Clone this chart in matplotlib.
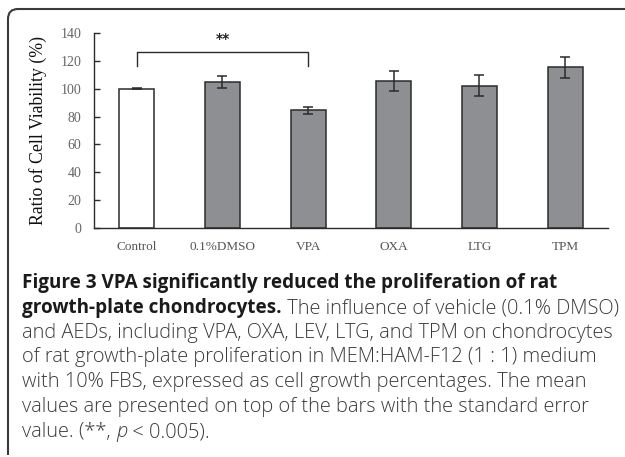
import matplotlib
matplotlib.use("Agg")
import matplotlib.pyplot as plt
from matplotlib.path import Path
from matplotlib.patches import PathPatch

# data
groups = ["Control", "0.1%DMSO", "VPA", "OXA", "LTG", "TPM"]
means = [100, 105, 84.5, 105.5, 102.3, 115.3]
errs = [0.3, 4.2, 2.4, 7.0, 7.5, 7.3]
fills = ["white", "#8e8f93", "#8e8f93", "#8e8f93", "#8e8f93", "#8e8f93"]
yticks = [0, 20, 40, 60, 80, 100, 120, 140]

W, H = 625, 457
fig = plt.figure(figsize=(W / 100, H / 100), dpi=100)

ax = fig.add_axes([94 / W, 1 - 228 / H, (608 - 94) / W, (228 - 33) / H])
x = range(len(groups))
ax.bar(x, means, width=0.41, color=fills, edgecolor="#2b2b2b", linewidth=1.1, zorder=2)
ax.errorbar(x, means, yerr=errs, fmt="none", ecolor="#2b2b2b", elinewidth=1.1,
            capsize=3.5, capthick=1.1, zorder=3)

ax.set_xlim(-0.5, 5.5)
ax.set_ylim(0, 140)
ax.set_yticks(yticks)
ax.set_xticks(list(x))
ax.set_xticklabels(groups)
for s in ["top", "right"]:
    ax.spines[s].set_visible(False)
for s in ["left", "bottom"]:
    ax.spines[s].set_color("#2b2b2b")
    ax.spines[s].set_linewidth(1.0)
ax.tick_params(axis="y", direction="in", length=4, width=1, color="#2b2b2b",
               labelsize=10, labelcolor="#666666", pad=9)
ax.tick_params(axis="x", length=0, labelsize=9.5, labelcolor="#555555", pad=9)
for lab in ax.get_xticklabels() + ax.get_yticklabels():
    lab.set_family("Liberation Serif")
ax.set_ylabel("Ratio of Cell Viability (%)", family="Liberation Serif",
              fontsize=12.8, labelpad=10, color="#111111")

# significance bracket Control vs VPA
ax.plot([0, 0, 2, 2], [116.5, 126.5, 126.5, 116.5], color="#2b2b2b", lw=1.0, clip_on=False)
ax.text(1, 136, "**", ha="center", va="center", fontsize=10, fontweight="bold", color="#222222")

# frame around figure (rounded top-left corner)
r = 10
verts = [(8, H - 2), (8, 9 + r), (8, 9), (8 + r, 9), (W + 2, 9)]
codes = [Path.MOVETO, Path.LINETO, Path.CURVE3, Path.CURVE3, Path.LINETO]
verts = [(vx / W, 1 - vy / H) for vx, vy in verts]
fig.patches.append(PathPatch(Path(verts, codes), transform=fig.transFigure,
                             fill=False, edgecolor="#3a3a3a", lw=1.5))

# caption
cap_font = "Open Sans"
fs = 14.4
x0 = 22 / W
line_y = [283, 308, 333, 357, 382, 407, 432]
fig.canvas.draw()
renderer = fig.canvas.get_renderer()


def chain(parts, y):
    xx = x0
    for txt, kw in parts:
        opts = {"color": "#3a3a3a", "fontweight": "light", "fontsize": fs}
        opts.update(kw)
        t = fig.text(xx, 1 - y / H, txt, family=cap_font, va="center", **opts)
        bb = t.get_window_extent(renderer)
        xx = bb.x1 / W


bold = {"fontweight": "bold", "color": "#1a1a1a", "fontsize": 13.6}
chain([("Figure 3 VPA significantly reduced the proliferation of rat", bold)], line_y[0])
chain([("growth-plate chondrocytes.", bold), (" The influence of vehicle (0.1% DMSO)", {})], line_y[1])
chain([("and AEDs, including VPA, OXA, LEV, LTG, and TPM on chondrocytes", {})], line_y[2])
chain([("of rat growth-plate proliferation in MEM:HAM-F12 (1 : 1) medium", {})], line_y[3])
chain([("with 10% FBS, expressed as cell growth percentages. The mean", {})], line_y[4])
chain([("values are presented on top of the bars with the standard error", {})], line_y[5])
chain([("value. (**, ", {}), ("p", {"style": "italic"}), (" < 0.005).", {})], line_y[6])

fig.savefig("out.png", dpi=100)
